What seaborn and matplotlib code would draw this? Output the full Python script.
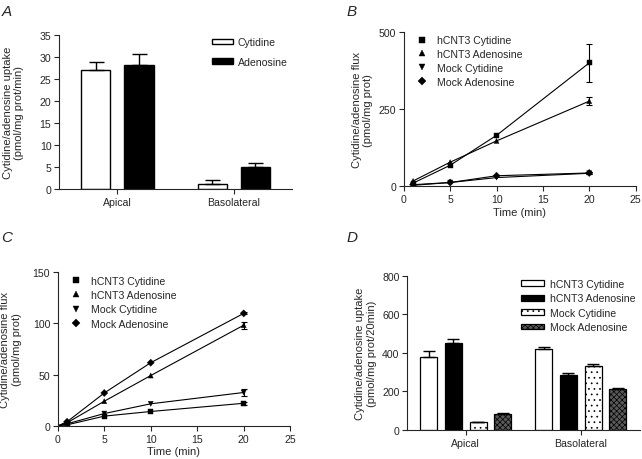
import pandas as pd
import seaborn as sns
import matplotlib.pyplot as plt

# Panel A: uptake (pmol/mg prot/min)
sites = ["Apical", "Basolateral"]
substrates_a = ["Cytidine", "Adenosine"]
uptake_cyt = [27.0, 1.1]
uptake_ade = [28.2, 5.0]
err_cyt = [1.9, 0.9]
err_ade = [2.4, 0.8]

# Panels B and C: time course flux (pmol/mg prot)
series = ["hCNT3 Cytidine", "hCNT3 Adenosine", "Mock Cytidine", "Mock Adenosine"]
times = [1, 5, 10, 20]
flux_b = {
    "hCNT3 Cytidine": [10, 68, 165, 400],
    "hCNT3 Adenosine": [17, 78, 147, 276],
    "Mock Cytidine": [3, 12, 28, 42],
    "Mock Adenosine": [5, 12, 34, 43],
}
err_b = {"hCNT3 Cytidine": 62, "hCNT3 Adenosine": 14, "Mock Cytidine": 3, "Mock Adenosine": 3}
flux_c = {
    "hCNT3 Cytidine": [1, 9.5, 14, 22],
    "hCNT3 Adenosine": [3, 24, 49, 98],
    "Mock Cytidine": [2, 12, 21.5, 32.5],
    "Mock Adenosine": [4, 32, 61.5, 109.5],
}
err_c = {"hCNT3 Cytidine": 1.5, "hCNT3 Adenosine": 3.5, "Mock Cytidine": 3.5, "Mock Adenosine": 1}

# Panel D: uptake (pmol/mg prot/20min)
uptake_d = {
    "hCNT3 Cytidine": [381, 422],
    "hCNT3 Adenosine": [450, 286],
    "Mock Cytidine": [41, 331],
    "Mock Adenosine": [81, 212],
}
err_d = {
    "hCNT3 Cytidine": [29, 9],
    "hCNT3 Adenosine": [20, 9],
    "Mock Cytidine": [3, 12],
    "Mock Adenosine": [5, 8],
}

sns.set_style("ticks")
plt.rcParams["font.family"] = ["Liberation Sans", "DejaVu Sans"]
plt.rcParams["hatch.linewidth"] = 0.5
FS = 8
LS = 7.6
TS = 7.6

fig = plt.figure(figsize=(6.42, 4.60), dpi=100)
axA = fig.add_axes([0.092, 0.587, 0.363, 0.335])
axB = fig.add_axes([0.629, 0.593, 0.361, 0.335])
axC = fig.add_axes([0.090, 0.072, 0.362, 0.335])
axD = fig.add_axes([0.634, 0.063, 0.363, 0.335])


def style_axes(ax):
    sns.despine(ax=ax)
    ax.tick_params(direction="out", length=3.5, width=0.8, labelsize=TS, pad=2)
    for s in ["left", "bottom"]:
        ax.spines[s].set_linewidth(0.8)


def add_bar_errors(ax, bars_by_level, errs_by_level, capsize):
    for bars, errs in zip(bars_by_level, errs_by_level):
        xs = [b.get_x() + b.get_width() / 2 for b in bars]
        ys = [b.get_height() for b in bars]
        ax.errorbar(xs, ys, yerr=[[0] * len(errs), errs], fmt="none", ecolor="black",
                    elinewidth=1, capsize=capsize, capthick=1, zorder=1)


# ---- A ----
dfA = pd.DataFrame({
    "site": sites * 2,
    "substrate": [substrates_a[0]] * 2 + [substrates_a[1]] * 2,
    "uptake": uptake_cyt + uptake_ade,
})
sns.barplot(data=dfA, x="site", y="uptake", hue="substrate", hue_order=substrates_a,
            palette={"Cytidine": "white", "Adenosine": "black"}, saturation=1,
            edgecolor="black", linewidth=1, width=0.74, gap=0.32, errorbar=None, ax=axA)
barsA = [c for c in axA.containers]
add_bar_errors(axA, barsA, [err_cyt, err_ade], 5.4)
axA.set_ylim(0, 35)
axA.set_yticks(range(0, 36, 5))
axA.set_xlim(-0.5, 1.5)
axA.set_xlabel("")
axA.set_ylabel("Cytidine/adenosine uptake\n(pmol/mg prot/min)", fontsize=FS)
axA.yaxis.set_label_coords(-0.15, 0.5)
axA.legend(barsA, substrates_a, loc="upper left", bbox_to_anchor=(0.657, 0.985),
           frameon=False, fontsize=LS, borderpad=0, borderaxespad=0,
           handlelength=2.0, handleheight=0.45, handletextpad=0.4, labelspacing=0.9)
style_axes(axA)

markers = {"hCNT3 Cytidine": "s", "hCNT3 Adenosine": "^",
           "Mock Cytidine": "v", "Mock Adenosine": "D"}


def time_panel(ax, flux, errs, from_origin):
    rows = []
    for s in series:
        for t, v in zip(times, flux[s]):
            rows.append({"time": t, "flux": v, "series": s})
    pts = pd.DataFrame(rows)
    line_rows = list(rows)
    if from_origin:
        line_rows += [{"time": 0, "flux": 0, "series": s} for s in series]
    lines = pd.DataFrame(line_rows).sort_values(["series", "time"])
    sns.lineplot(data=lines, x="time", y="flux", units="series", estimator=None,
                 color="black", linewidth=0.8, legend=False, ax=ax, sort=True)
    sns.scatterplot(data=pts, x="time", y="flux", style="series", style_order=series,
                    markers=markers, color="black", edgecolor="black", linewidth=0.3,
                    s=13, ax=ax, zorder=3)
    last = pts[pts["time"] == times[-1]]
    ax.errorbar(last["time"], last["flux"], yerr=[errs[s] for s in last["series"]],
                fmt="none", ecolor="black", elinewidth=0.8, capsize=2, capthick=0.8, zorder=2)
    ax.set_xlim(0, 25)
    ax.set_xticks(range(0, 26, 5))
    ax.set_xlabel("Time (min)", fontsize=FS, labelpad=2)
    ax.set_ylabel("Cytidine/adenosine flux\n(pmol/mg prot)", fontsize=FS)


# ---- B ----
time_panel(axB, flux_b, err_b, False)
axB.set_ylim(0, 500)
axB.set_yticks([0, 250, 500])
axB.yaxis.set_label_coords(-0.132, 0.5)
sns.move_legend(axB, "upper left", bbox_to_anchor=(0.056, 0.98), frameon=False,
                title=None, fontsize=LS, borderpad=0, borderaxespad=0,
                handlelength=1, handletextpad=0.9, labelspacing=0.36)
style_axes(axB)

# ---- C ----
time_panel(axC, flux_c, err_c, True)
axC.set_ylim(0, 150)
axC.set_yticks([0, 50, 100, 150])
axC.yaxis.set_label_coords(-0.155, 0.5)
sns.move_legend(axC, "upper left", bbox_to_anchor=(0.056, 0.975), frameon=False,
                title=None, fontsize=LS, borderpad=0, borderaxespad=0,
                handlelength=1, handletextpad=0.9, labelspacing=0.42)
style_axes(axC)

# ---- D ----
dfD = pd.DataFrame({
    "site": sites * len(series),
    "group": [s for s in series for _ in sites],
    "uptake": [v for s in series for v in uptake_d[s]],
})
sns.barplot(data=dfD, x="site", y="uptake", hue="group", hue_order=series,
            palette={"hCNT3 Cytidine": "white", "hCNT3 Adenosine": "black",
                     "Mock Cytidine": "white", "Mock Adenosine": "#5a5a5a"},
            saturation=1, edgecolor="black", linewidth=0.9, width=0.856, gap=0.31,
            errorbar=None, ax=axD)
barsD = [c for c in axD.containers]
hatches = {"Mock Cytidine": "...", "Mock Adenosine": "xxxxxx"}
for cont, s in zip(barsD, series):
    for b in cont:
        if s in hatches:
            b.set_hatch(hatches[s])
add_bar_errors(axD, barsD, [err_d[s] for s in series], 4)
axD.set_ylim(0, 800)
axD.set_yticks(range(0, 801, 200))
axD.set_xlim(-0.51, 1.515)
axD.set_xlabel("")
axD.set_ylabel("Cytidine/adenosine uptake\n(pmol/mg prot/20min)", fontsize=FS)
axD.yaxis.set_label_coords(-0.129, 0.5)
axD.legend(barsD, series, loc="upper left", bbox_to_anchor=(0.49, 0.98),
           frameon=False, fontsize=LS, borderpad=0, borderaxespad=0,
           handlelength=2.2, handleheight=0.45, handletextpad=0.5, labelspacing=0.42)
style_axes(axD)

for letter, x, y in [("A", 0.002, 0.99), ("B", 0.54, 0.99), ("C", 0.002, 0.497), ("D", 0.54, 0.497)]:
    fig.text(x, y, letter, fontsize=11, style="italic", va="top", ha="left")

fig.savefig("out.png", dpi=100)
